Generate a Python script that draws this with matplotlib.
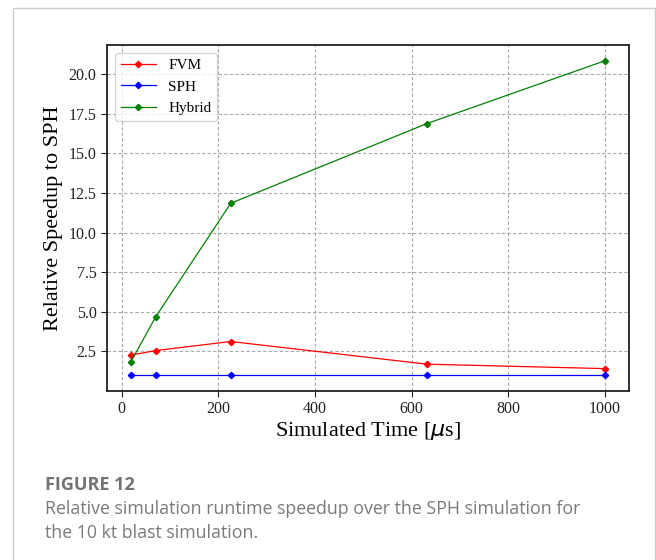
import matplotlib
matplotlib.use("Agg")
import matplotlib.pyplot as plt
from matplotlib.patches import Rectangle

# data
sim_time = [19, 71, 226, 632, 1000]
fvm = [2.27, 2.56, 3.13, 1.70, 1.42]
sph = [1.0, 1.0, 1.0, 1.0, 1.0]
hybrid = [1.83, 4.70, 11.85, 16.88, 20.84]

series = [("FVM", fvm, "red"), ("SPH", sph, "blue"), ("Hybrid", hybrid, "green")]

fig = plt.figure(figsize=(6.56, 5.6), dpi=100)
ax = fig.add_axes([107 / 656, 1 - 391 / 560, (628.7 - 107) / 656, (391 - 45) / 560])

serif = ["Liberation Serif", "DejaVu Serif"]
for name, vals, col in series:
    ax.plot(sim_time, vals, color=col, lw=0.9, marker="D", ms=3.2, label=name)

ax.grid(True, ls=(0, (3, 2)), color="#a8a8a8", lw=0.8)
ax.set_axisbelow(True)
for s in ax.spines.values():
    s.set_color("#222222")
    s.set_linewidth(1.3)
ax.tick_params(colors="#222222", labelsize=11.5, length=4)
for lab in ax.get_xticklabels() + ax.get_yticklabels():
    lab.set_family(serif)
ax.set_xlabel(r"Simulated Time [$\mu$s]", fontsize=16, family=serif)
ax.set_ylabel("Relative Speedup to SPH", fontsize=16, family=serif)
ax.xaxis.labelpad = 2
leg = ax.legend(loc="upper left", prop={"family": serif, "size": 11}, framealpha=0.8,
                handlelength=2.3)

# caption and border
fig.patches.append(Rectangle((13 / 656, -0.05), (655 - 13) / 656, 1.05 - 8 / 560,
                             transform=fig.transFigure, fill=False,
                             edgecolor="#cccccc", lw=1))
sans = ["Open Sans", "DejaVu Sans"]
fig.text(45 / 656, 1 - 485 / 560, "FIGURE 12", family=sans, fontsize=13,
         fontweight="bold", color="#737373", va="center")
fig.text(45 / 656, 1 - 509 / 560,
         "Relative simulation runtime speedup over the SPH simulation for",
         family=sans, fontsize=12.8, color="#7a7a7a", va="center")
fig.text(45 / 656, 1 - 533 / 560, "the 10 kt blast simulation.",
         family=sans, fontsize=12.8, color="#7a7a7a", va="center")

fig.savefig("out.png", dpi=100)
